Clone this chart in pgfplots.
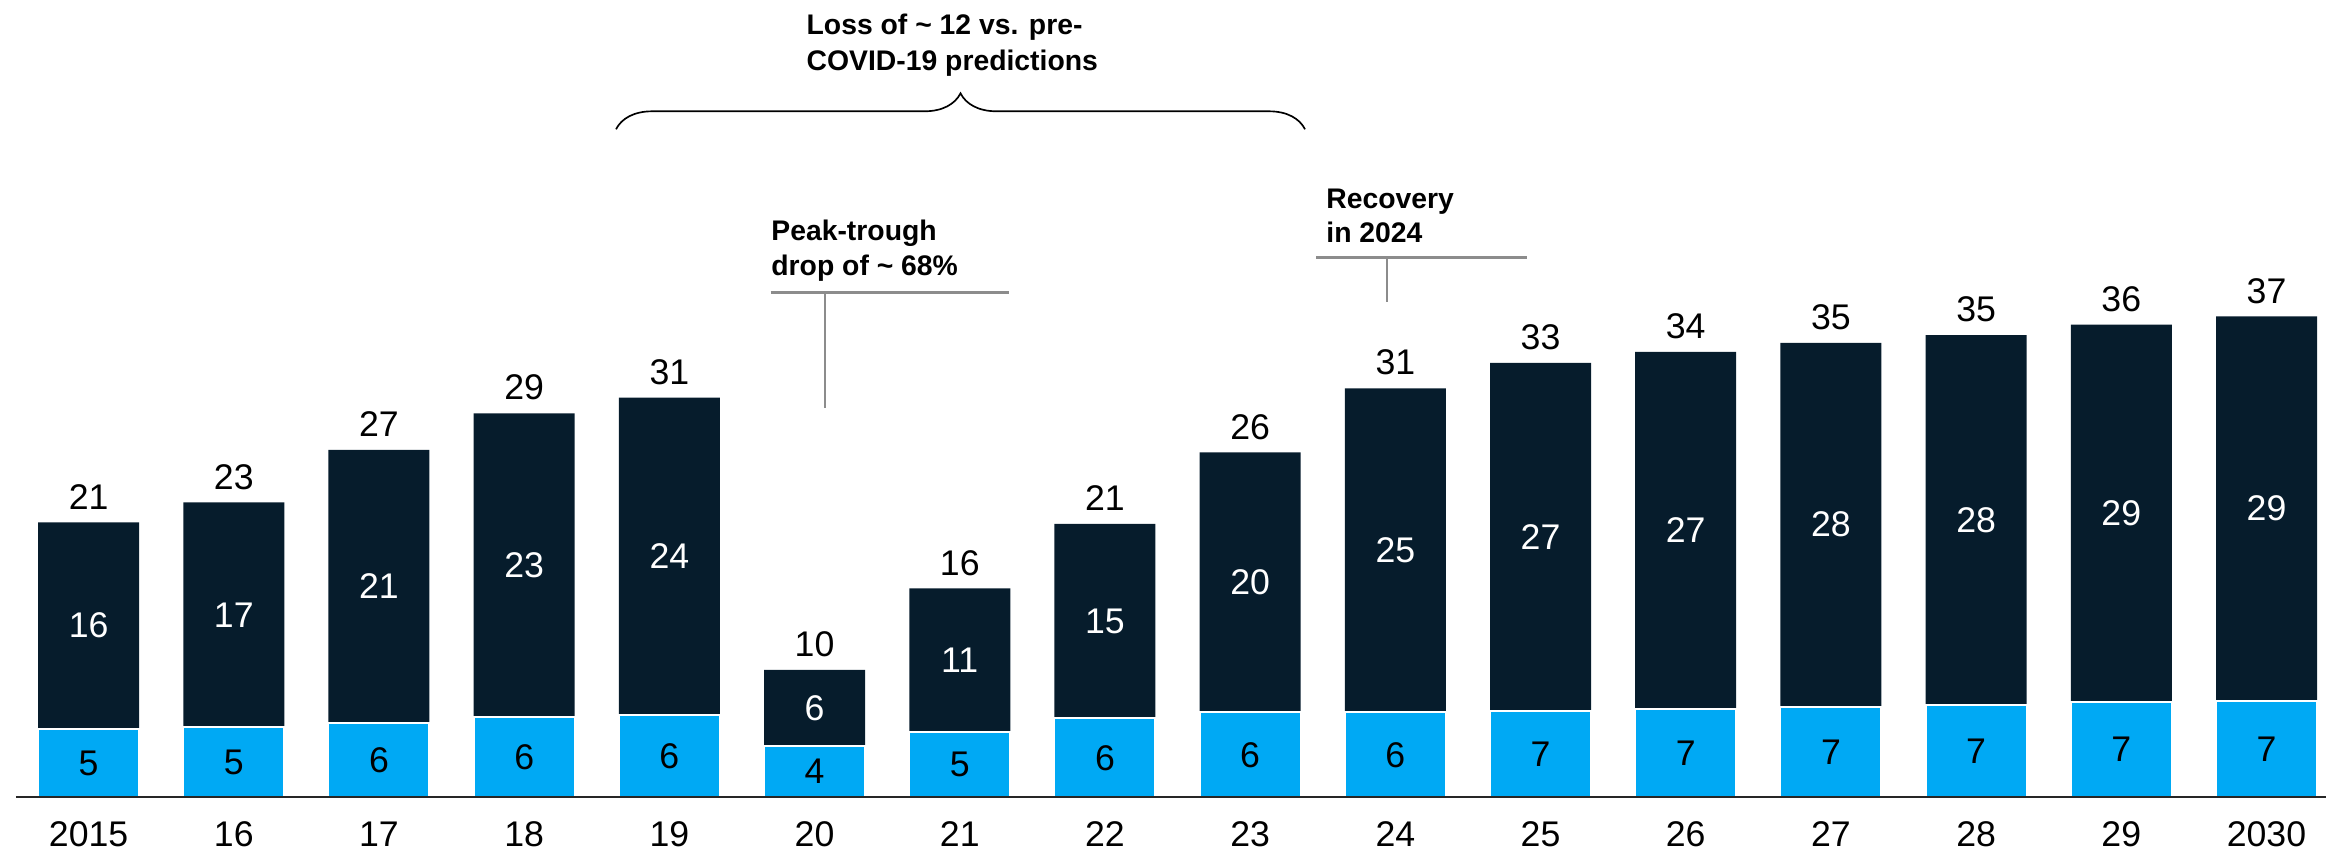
\documentclass[border=0pt]{standalone}
\usepackage{pgfplots}
\pgfplotsset{compat=1.18}
\usepackage{pgfplotstable}
\usepackage{fontspec}
\setmainfont{Liberation Sans}
\usetikzlibrary{decorations.pathreplacing}

\definecolor{navy}{HTML}{061C2C}
\definecolor{sky}{HTML}{00A9F4}
\definecolor{annogray}{HTML}{8C8C8C}

\newcommand\numfont{\fontsize{10.7}{12.8}\selectfont}
\newcommand\annfont{\fontsize{8.5}{10.2}\selectfont\bfseries}

% x = year index (2015 = 0), lo = lower segment, hi = upper segment
\pgfplotstableread{
x  lo    hi
0  5.21  15.83
1  5.33  17.24
2  5.67  20.92
3  6.13  23.27
4  6.28  24.32
5  3.88  5.87
6  4.98  11.00
7  6.02  14.91
8  6.48  19.92
9  6.48  24.84
10 6.62  26.64
11 6.77  27.34
12 6.93  27.87
13 7.07  28.33
14 7.26  28.93
15 7.38  29.45
}\traffic

\begin{document}
\begin{tikzpicture}
\useasboundingbox (0,0) rectangle (697.8pt,254.7pt);
\begin{axis}[
  at={(4.8pt,15.6pt)}, anchor=south west,
  scale only axis, width=693pt, height=239.1pt,
  xmin=-0.5, xmax=15.41, ymin=0, ymax=61.07,
  axis x line*=bottom, axis y line=none,
  axis line style={line width=0.6pt, black!85},
  xtick={0,...,15},
  xticklabels={2015,16,17,18,19,20,21,22,23,24,25,26,27,28,29,2030},
  major tick length=0pt,
  xticklabel style={anchor=base, yshift=-14.7pt, font=\numfont, text=black},
  ytick=\empty,
  clip=false,
  axis on top,
  /pgf/number format/assume math mode=true,
]
% full bar (total) in navy, lower segment drawn over it in sky blue
\addplot[ybar, bar width=30.3pt, bar shift=0pt, fill=navy, draw=none]
  table[x=x, y expr=\thisrow{lo}+\thisrow{hi}] {\traffic};
\addplot[ybar, bar width=30.3pt, bar shift=0pt, fill=sky, draw=white, line width=0.6pt]
  table[x=x, y=lo] {\traffic};

% value labels
\addplot[draw=none, point meta={\thisrow{lo}},
  nodes near coords={\pgfmathprintnumber[fixed,precision=0]{\pgfplotspointmeta}},
  every node near coord/.append style={anchor=center, inner sep=0pt, font=\numfont, text=black}]
  table[x=x, y expr=\thisrow{lo}/2] {\traffic};
\addplot[draw=none, point meta={\thisrow{hi}},
  nodes near coords={\pgfmathprintnumber[fixed,precision=0]{\pgfplotspointmeta}},
  every node near coord/.append style={anchor=center, inner sep=0pt, font=\numfont, text=white}]
  table[x=x, y expr=\thisrow{lo}+\thisrow{hi}/2] {\traffic};
\addplot[draw=none, point meta={\thisrow{lo}+\thisrow{hi}},
  nodes near coords={\pgfmathprintnumber[fixed,precision=0]{\pgfplotspointmeta}},
  every node near coord/.append style={anchor=base, yshift=4pt, inner sep=0pt, font=\numfont, text=black}]
  table[x=x, y expr=\thisrow{lo}+\thisrow{hi}] {\traffic};
\end{axis}

% annotations, positioned in a top-left based grid
\begin{scope}[x=0.3pt, y=-0.3pt, yshift=254.7pt]
  \draw[line width=0.5pt, black, decorate, decoration={brace, amplitude=10.8pt}]
    (616,129.3) -- (1305,129.3);
  \node[anchor=base west, inner sep=0pt, font=\annfont] at (806,34.3) {Loss of \textasciitilde{} 12 vs. pre-};
  \node[anchor=base west, inner sep=0pt, font=\annfont] at (806,70.7) {COVID-19 predictions};

  \node[anchor=base west, inner sep=0pt, font=\annfont] at (770.7,240) {Peak-trough};
  \node[anchor=base west, inner sep=0pt, font=\annfont] at (770.7,275) {drop of \textasciitilde{} 68\%};
  \draw[annogray, line width=0.9pt] (770.7,292.7) -- (1009,292.7);
  \draw[annogray, line width=0.6pt] (825,292.7) -- (825,408.3);

  \node[anchor=base west, inner sep=0pt, font=\annfont] at (1325.7,208.3) {Recovery};
  \node[anchor=base west, inner sep=0pt, font=\annfont] at (1325.7,242.3) {in 2024};
  \draw[annogray, line width=0.9pt] (1316,257.7) -- (1527,257.7);
  \draw[annogray, line width=0.6pt] (1387.3,257.7) -- (1387.3,302.3);
\end{scope}
\end{tikzpicture}
\end{document}
